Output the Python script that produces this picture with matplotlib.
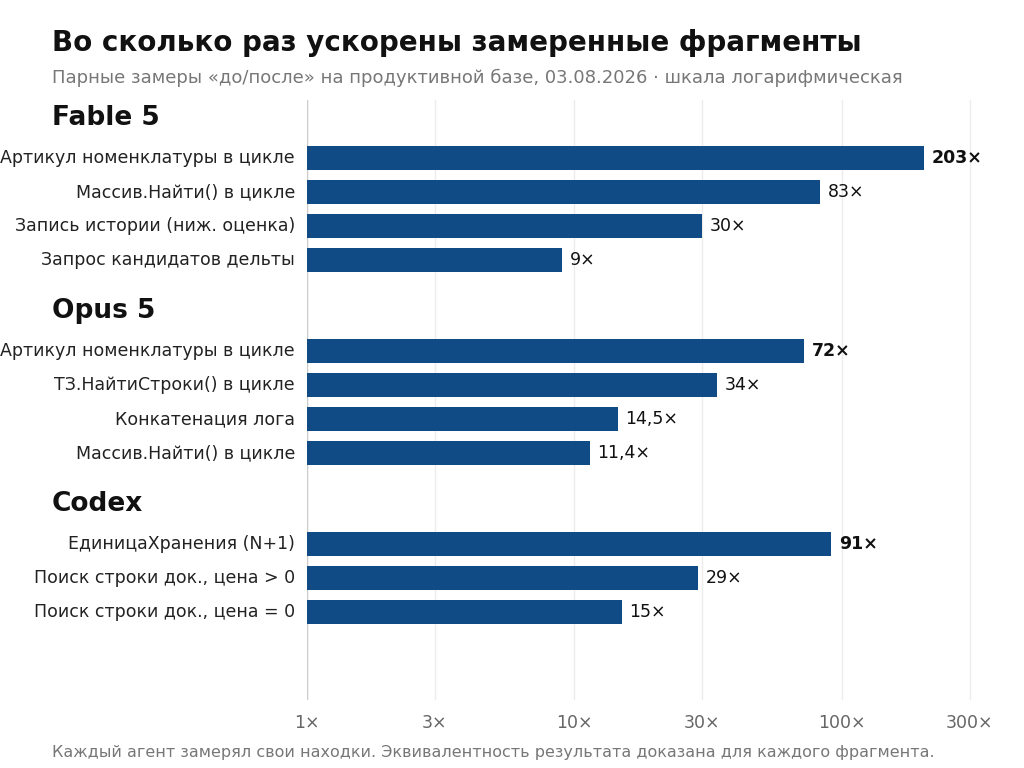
import matplotlib
matplotlib.use("Agg")
import matplotlib.pyplot as plt
import numpy as np

groups = ["Fable 5", "Opus 5", "Codex"]
labels = [
    ["Артикул номенклатуры в цикле", "Массив.Найти() в цикле", "Запись истории (ниж. оценка)", "Запрос кандидатов дельты"],
    ["Артикул номенклатуры в цикле", "ТЗ.НайтиСтроки() в цикле", "Конкатенация лога", "Массив.Найти() в цикле"],
    ["ЕдиницаХранения (N+1)", "Поиск строки док., цена > 0", "Поиск строки док., цена = 0"],
]
values = [[203, 83, 30, 9], [72, 34, 14.5, 11.4], [91, 29, 15]]
value_text = [["203×", "83×", "30×", "9×"], ["72×", "34×", "14,5×"[0:5], "11,4×"], ["91×", "29×", "15×"]]
ticks = [1, 3, 10, 30, 100, 300]
tick_labels = ["1×", "3×", "10×", "30×", "100×", "300×"]

color = "#114b85"
fig = plt.figure(figsize=(10.24, 7.68), dpi=100)
ax = fig.add_axes([307/1024, 1-700/768, (1000-307)/1024, 600/768])
ax.set_xscale("log")
ax.set_xlim(1, 390)
ax.set_ylim(700, 100)

y = 118
for g, labs, vals, txts in zip(groups, labels, values, value_text):
    fig.text(52/1024, 1-y/768, g, fontsize=19, fontweight="bold", color="#111", va="center", ha="left")
    y += 40
    for i, (l, v, t) in enumerate(zip(labs, vals, txts)):
        ax.barh(y, v - 1, left=1, height=24, color=color, zorder=3)
        ax.text(v * 1.07, y, t, va="center", ha="left", fontsize=12.5,
                fontweight="bold" if i == 0 else "normal", color="#111")
        fig.text(295/1024, 1-y/768, l, fontsize=12.5, ha="right", va="center", color="#222")
        y += 34
    y += 17

ax.set_xticks(ticks)
ax.set_xticklabels(tick_labels, fontsize=12.5, color="#666")
ax.xaxis.set_minor_locator(matplotlib.ticker.NullLocator())
ax.tick_params(axis="x", length=0, pad=10)
ax.set_yticks([])
ax.grid(axis="x", color="#ececec", lw=1, zorder=0)
for s in ax.spines.values():
    s.set_visible(False)
ax.axvline(1, color="#cccccc", lw=1, zorder=2)

fig.text(52/1024, 1-43/768, "Во сколько раз ускорены замеренные фрагменты", fontsize=20, fontweight="bold", color="#111", va="center")
fig.text(52/1024, 1-78/768, "Парные замеры «до/после» на продуктивной базе, 03.08.2026 · шкала логарифмическая", fontsize=13, color="#777", va="center")
fig.text(52/1024, 1-752/768, "Каждый агент замерял свои находки. Эквивалентность результата доказана для каждого фрагмента.", fontsize=11.5, color="#777", va="center")

fig.savefig("out.png", dpi=100)
